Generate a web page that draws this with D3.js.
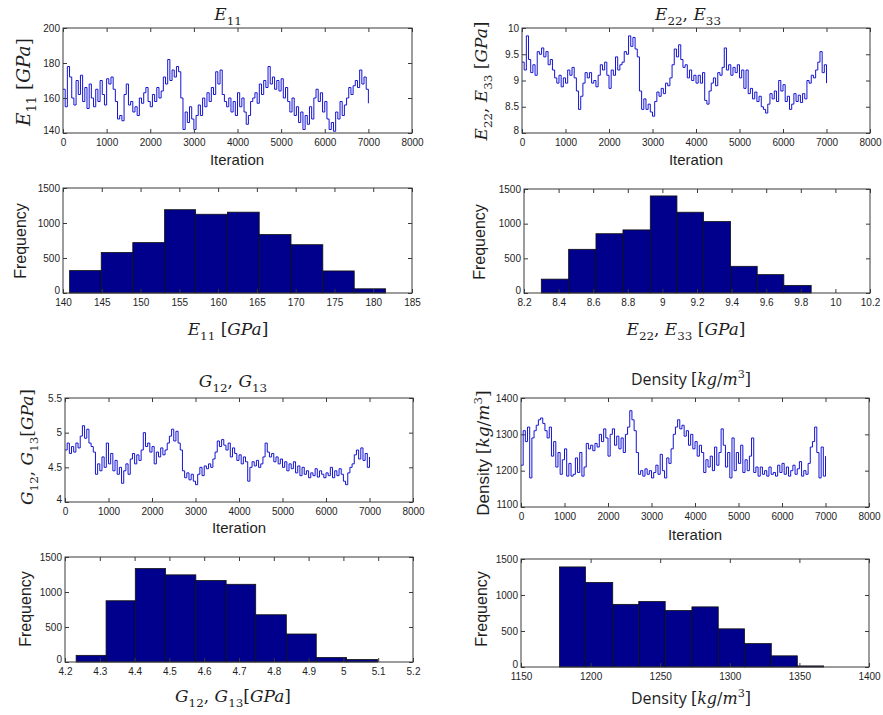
<!DOCTYPE html>
<html>
<head>
<meta charset="utf-8">
<script src="https://cdn.jsdelivr.net/npm/d3@7"></script>
<style>
  body { margin: 0; background: #fff; }
  text { fill: #1e1e1e; }
</style>
</head>
<body>
<div id="container"></div>
<script>
// one sample read every 50 iterations, 0 .. 7000
var iterStep = 50,
    iterTicks = [0, 1000, 2000, 3000, 4000, 5000, 6000, 7000, 8000];

var e11Trace = [165,155,178,172,160,156,170,162,173,158,166,154,168,160,155,165,158,170,162,156,
  171,168,172,165,158,148,150,147,162,168,156,158,152,155,150,160,157,163,166,158,
  155,162,158,166,160,164,172,168,182,170,176,172,178,175,160,142,152,146,155,148,
  142,150,156,150,160,155,163,158,166,162,175,168,176,162,158,155,160,152,158,150,
  163,155,160,152,145,150,158,160,163,157,168,162,170,166,178,168,172,165,170,164,
  171,160,166,158,152,160,150,155,146,152,142,150,145,155,148,160,165,158,163,152,
  158,148,142,146,141,152,148,158,150,156,160,166,162,167,170,166,176,168,172,165,157];

var e22Trace = [9.35,9.2,9.85,9.4,9.15,9.3,9.1,9.55,9.5,9.62,9.45,9.55,9.3,9.4,9.2,9.05,8.95,9.1,8.88,9.05,
  8.95,9.2,9.1,9.25,9.05,8.8,8.45,8.7,8.95,9.15,9.05,9.15,8.95,9.0,8.88,9.1,9.3,9.2,9.35,9.1,
  8.85,9.2,9.1,9.45,9.2,9.3,9.35,9.55,9.5,9.85,9.65,9.82,9.6,9.45,8.8,8.45,8.65,8.45,8.55,8.4,
  8.32,8.6,8.78,8.7,8.85,8.75,8.95,8.9,9.05,9.3,9.6,9.45,9.68,9.4,9.25,9.3,9.05,9.2,9.0,9.1,
  8.95,9.1,8.95,9.15,8.62,8.55,8.8,8.95,9.05,8.9,9.15,9.1,9.25,9.62,9.2,9.3,9.1,9.25,9.15,9.3,
  9.05,9.2,8.85,9.2,8.75,8.85,8.65,8.78,8.6,8.7,8.5,8.45,8.38,8.55,8.75,8.65,8.8,8.6,9.0,8.8,
  8.92,8.6,8.7,8.45,8.55,8.75,8.6,8.72,8.58,8.75,8.65,9.0,8.95,9.1,9.05,9.2,9.35,9.55,9.15,9.3,8.95];

var gTrace = [4.75,4.85,4.7,4.8,4.72,4.85,4.78,4.95,5.1,4.92,5.05,4.85,4.8,4.72,4.4,4.55,4.45,4.65,4.5,4.85,
  4.55,4.7,4.45,4.6,4.4,4.5,4.27,4.45,4.55,4.4,4.62,4.7,4.55,4.68,4.6,4.75,5.0,4.8,4.85,4.72,
  4.8,4.55,4.72,4.65,4.78,4.68,4.75,4.85,4.95,5.05,4.88,5.02,4.85,4.75,4.45,4.35,4.42,4.32,4.4,4.3,
  4.25,4.4,4.5,4.38,4.52,4.48,4.55,4.5,4.62,4.72,4.88,4.8,4.9,4.82,4.75,4.85,4.65,4.78,4.7,4.6,
  4.68,4.55,4.65,4.58,4.3,4.5,4.58,4.52,4.6,4.5,4.55,4.65,4.85,4.72,4.65,4.7,4.58,4.65,4.55,4.62,
  4.5,4.58,4.45,4.55,4.48,4.58,4.42,4.52,4.38,4.5,4.4,4.45,4.35,4.42,4.38,4.48,4.36,4.45,4.4,4.35,
  4.42,4.38,4.5,4.35,4.45,4.38,4.48,4.4,4.3,4.25,4.42,4.5,4.55,4.68,4.75,4.62,4.78,4.6,4.7,4.5,4.65];

var densityTrace = [1215,1310,1280,1320,1180,1290,1310,1325,1340,1345,1330,1310,1290,1320,1240,1280,1210,1250,1190,1230,
  1260,1185,1220,1185,1190,1235,1195,1250,1185,1210,1275,1260,1270,1255,1275,1265,1300,1280,1315,1290,
  1240,1300,1315,1270,1295,1260,1290,1250,1300,1320,1365,1340,1310,1250,1190,1200,1185,1205,1190,1200,
  1180,1195,1215,1190,1245,1200,1180,1235,1220,1260,1300,1320,1340,1315,1325,1295,1310,1270,1300,1260,
  1280,1240,1270,1250,1195,1230,1210,1240,1200,1265,1215,1250,1315,1270,1210,1250,1180,1290,1200,1250,
  1220,1270,1195,1230,1200,1240,1290,1195,1210,1185,1210,1190,1200,1185,1210,1190,1195,1185,1215,1195,
  1220,1190,1210,1185,1200,1215,1190,1205,1225,1185,1200,1190,1220,1265,1280,1320,1250,1180,1265,1185,1240];

// histograms: bin edges and counts
var e11Edges = [140.85,144.93,149.0,153.1,157.1,161.2,165.3,169.4,173.5,177.55,181.6],
    e11Counts = [320,580,720,1190,1125,1155,835,690,315,60];
var e22Edges = [8.30,8.458,8.616,8.772,8.93,9.084,9.238,9.394,9.548,9.702,9.86],
    e22Counts = [200,630,855,910,1400,1165,1030,385,265,110];
var gEdges = [4.232,4.318,4.402,4.489,4.576,4.663,4.748,4.836,4.922,5.009,5.098],
    gCounts = [95,875,1335,1245,1165,1110,675,400,65,35];
var densityEdges = [1177.6,1196.3,1215.9,1234.6,1253.6,1272.8,1291.7,1310.6,1329.8,1348.5,1367.4],
    densityCounts = [1390,1175,870,910,785,835,530,325,155,15];

var freqTicks = [0, 500, 1000, 1500];

var SERIF = "'DejaVu Serif', 'Liberation Serif', serif",
    SANS = "'Liberation Sans', Arial, sans-serif",
    CAL = "'Open Sans', 'Liberation Sans', sans-serif";

var svg = d3.select('#container').append('svg')
  .attr('width', 883)
  .attr('height', 715)
  .style('background', '#fff');

// writes a label made of italic / upright / sub / sup pieces
function mathText(g, parts, size) {
  var t = g.append('text').attr('font-size', size).attr('text-anchor', 'middle'),
      shift = 0;
  parts.forEach(function (p) {
    var target = p.sub ? size * 0.3 : (p.sup ? -size * 0.42 : 0);
    t.append('tspan')
      .attr('dy', target - shift)
      .attr('font-family', p.arial ? SANS : (p.sans ? CAL : SERIF))
      .attr('font-style', p.i ? 'italic' : 'normal')
      .attr('font-size', (p.sub || p.sup) ? size * 0.7 : size)
      .text(p.t);
    shift = target;
  });
  return t;
}

function drawPanel(cfg) {
  var b = cfg.box,
      g = svg.append('g'),
      x = d3.scaleLinear().domain(cfg.xDomain).range([b[0], b[2]]),
      y = d3.scaleLinear().domain(cfg.yDomain).range([b[3], b[1]]),
      fmt = function (d) { return String(+d.toFixed(2)); };

  // marks
  if (cfg.trace) {
    var line = d3.line()
      .curve(d3.curveStepAfter)
      .x(function (d, i) { return x(i * iterStep); })
      .y(function (d) { return y(d); });
    g.append('path')
      .datum(cfg.trace)
      .attr('d', line)
      .attr('fill', 'none')
      .attr('stroke', '#1414d2')
      .attr('stroke-width', 1);
  } else {
    g.selectAll('rect.bar')
      .data(cfg.counts)
      .enter()
      .append('rect')
      .attr('class', 'bar')
      .attr('x', function (d, i) { return x(cfg.edges[i]); })
      .attr('width', function (d, i) { return x(cfg.edges[i + 1]) - x(cfg.edges[i]); })
      .attr('y', function (d) { return y(d); })
      .attr('height', function (d) { return y(0) - y(d); })
      .attr('fill', '#00008c')
      .attr('stroke', '#111')
      .attr('stroke-width', 0.8);
  }

  // axes: inward ticks all round, labels bottom and left
  var axes = [
    { a: d3.axisBottom(x).tickValues(cfg.xTicks).tickFormat(fmt), t: 'translate(0,' + b[3] + ')', pad: 6 },
    { a: d3.axisTop(x).tickValues(cfg.xTicks).tickFormat(''), t: 'translate(0,' + b[1] + ')', pad: 3 },
    { a: d3.axisLeft(y).tickValues(cfg.yTicks).tickFormat(fmt), t: 'translate(' + b[0] + ',0)', pad: 3, left: true },
    { a: d3.axisRight(y).tickValues(cfg.yTicks).tickFormat(''), t: 'translate(' + b[2] + ',0)', pad: 3 }
  ];
  axes.forEach(function (ax) {
    var s = g.append('g')
      .attr('transform', ax.t)
      .call(ax.a.tickSizeInner(-4).tickSizeOuter(0).tickPadding(ax.pad));
    s.select('.domain').remove();
    s.selectAll('line').attr('stroke', '#3a3a3a');
    s.selectAll('text')
      .attr('font-family', SANS)
      .attr('font-size', 10)
      .attr('fill', '#262626');
    if (ax.left) {
      // lowest label sits a little above the corner so it clears the x labels
      s.selectAll('.tick')
        .filter(function (d) { return d === cfg.yDomain[0]; })
        .select('text')
        .attr('y', -3);
    }
  });
  g.append('rect')
    .attr('x', b[0]).attr('y', b[1])
    .attr('width', b[2] - b[0]).attr('height', b[3] - b[1])
    .attr('fill', 'none')
    .attr('stroke', '#3a3a3a')
    .attr('stroke-width', 1);

  // texts
  if (cfg.title) {
    mathText(g, cfg.title, cfg.titleSize || 17)
      .attr('x', cfg.titlePos[0]).attr('y', cfg.titlePos[1]);
  }
  if (cfg.xLabel) {
    mathText(g, cfg.xLabel, cfg.xLabelSize || 17)
      .attr('x', cfg.xLabelPos[0]).attr('y', cfg.xLabelPos[1]);
  }
  if (cfg.yLabel) {
    mathText(g, cfg.yLabel, cfg.yLabelSize || 17)
      .attr('transform', 'translate(' + cfg.yLabelPos[0] + ',' + cfg.yLabelPos[1] + ') rotate(-90)');
  }
}

var iterationLabel = [{ t: 'Iteration', arial: true }],
    freqLabel = [{ t: 'Frequency', arial: true }],
    e11Label = [{ t: 'E', i: true }, { t: '11', sub: true }, { t: ' [' }, { t: 'GPa', i: true }, { t: ']' }],
    e22Label = [{ t: 'E', i: true }, { t: '22', sub: true }, { t: ', ' }, { t: 'E', i: true }, { t: '33', sub: true }, { t: ' [' }, { t: 'GPa', i: true }, { t: ']' }],
    gLabel = [{ t: 'G', i: true }, { t: '12', sub: true }, { t: ', ' }, { t: 'G', i: true }, { t: '13', sub: true }, { t: '[' }, { t: 'GPa', i: true }, { t: ']' }],
    densLabel = [{ t: 'Density ', sans: true }, { t: '[' }, { t: 'kg', i: true }, { t: '/' }, { t: 'm', i: true }, { t: '3', sup: true }, { t: ']' }],
    densAxisLabel = [{ t: 'Density ', arial: true }, { t: '[' }, { t: 'kg', i: true }, { t: '/' }, { t: 'm', i: true }, { t: '3', sup: true }, { t: ']' }];

// top-left: E11 trace
drawPanel({
  box: [63, 28, 412, 133], trace: e11Trace,
  xDomain: [0, 8000], xTicks: iterTicks,
  yDomain: [140, 200], yTicks: [140, 160, 180, 200],
  title: [{ t: 'E', i: true }, { t: '11', sub: true }], titlePos: [228, 20],
  xLabel: iterationLabel, xLabelSize: 15, xLabelPos: [237, 165],
  yLabel: e11Label, yLabelSize: 18.5, yLabelPos: [30, 82]
});
// top-right: E22, E33 trace
drawPanel({
  box: [522, 28, 870, 133], trace: e22Trace,
  xDomain: [0, 8000], xTicks: iterTicks,
  yDomain: [8, 10], yTicks: [8, 8.5, 9, 9.5, 10],
  title: [{ t: 'E', i: true }, { t: '22', sub: true }, { t: ', ' }, { t: 'E', i: true }, { t: '33', sub: true }], titlePos: [688, 20],
  xLabel: iterationLabel, xLabelSize: 15, xLabelPos: [696, 165],
  yLabel: e22Label, yLabelSize: 17, yLabelPos: [487, 81]
});
// E11 histogram
drawPanel({
  box: [63, 188, 412, 293], counts: e11Counts, edges: e11Edges,
  xDomain: [140, 185], xTicks: [140, 145, 150, 155, 160, 165, 170, 175, 180, 185],
  yDomain: [0, 1500], yTicks: freqTicks,
  xLabel: e11Label, xLabelSize: 17, xLabelPos: [228, 335],
  yLabel: freqLabel, yLabelSize: 16, yLabelPos: [26, 241]
});
// E22 histogram
drawPanel({
  box: [524, 189, 870, 293], counts: e22Counts, edges: e22Edges,
  xDomain: [8.2, 10.2], xTicks: [8.2, 8.4, 8.6, 8.8, 9, 9.2, 9.4, 9.6, 9.8, 10, 10.2],
  yDomain: [0, 1500], yTicks: freqTicks,
  xLabel: e22Label, xLabelSize: 17, xLabelPos: [686, 335],
  yLabel: freqLabel, yLabelSize: 16, yLabelPos: [485, 242]
});
// G trace
drawPanel({
  box: [65, 398, 413, 502], trace: gTrace,
  xDomain: [0, 8000], xTicks: iterTicks,
  yDomain: [4, 5.5], yTicks: [4, 4.5, 5, 5.5],
  title: [{ t: 'G', i: true }, { t: '12', sub: true }, { t: ', ' }, { t: 'G', i: true }, { t: '13', sub: true }], titlePos: [233, 387],
  xLabel: iterationLabel, xLabelSize: 15, xLabelPos: [239, 533],
  yLabel: gLabel, yLabelSize: 17, yLabelPos: [33, 447]
});
// Density trace
drawPanel({
  box: [521, 398, 869, 507], trace: densityTrace,
  xDomain: [0, 8000], xTicks: iterTicks,
  yDomain: [1100, 1400], yTicks: [1100, 1200, 1300, 1400],
  title: densLabel, titleSize: 16, titlePos: [691, 385],
  xLabel: iterationLabel, xLabelSize: 15, xLabelPos: [695, 540],
  yLabel: densAxisLabel, yLabelSize: 17, yLabelPos: [489, 453]
});
// G histogram
drawPanel({
  box: [65, 557, 413, 662], counts: gCounts, edges: gEdges,
  xDomain: [4.2, 5.2], xTicks: [4.2, 4.3, 4.4, 4.5, 4.6, 4.7, 4.8, 4.9, 5, 5.1, 5.2],
  yDomain: [0, 1500], yTicks: freqTicks,
  xLabel: gLabel, xLabelSize: 17, xLabelPos: [233, 702],
  yLabel: freqLabel, yLabelSize: 16, yLabelPos: [31, 609]
});
// Density histogram
drawPanel({
  box: [521, 559, 869, 667], counts: densityCounts, edges: densityEdges,
  xDomain: [1150, 1400], xTicks: [1150, 1200, 1250, 1300, 1350, 1400],
  yDomain: [0, 1500], yTicks: freqTicks,
  xLabel: densLabel, xLabelSize: 16, xLabelPos: [691, 704],
  yLabel: freqLabel, yLabelSize: 16, yLabelPos: [487, 609]
});
</script>
</body>
</html>
